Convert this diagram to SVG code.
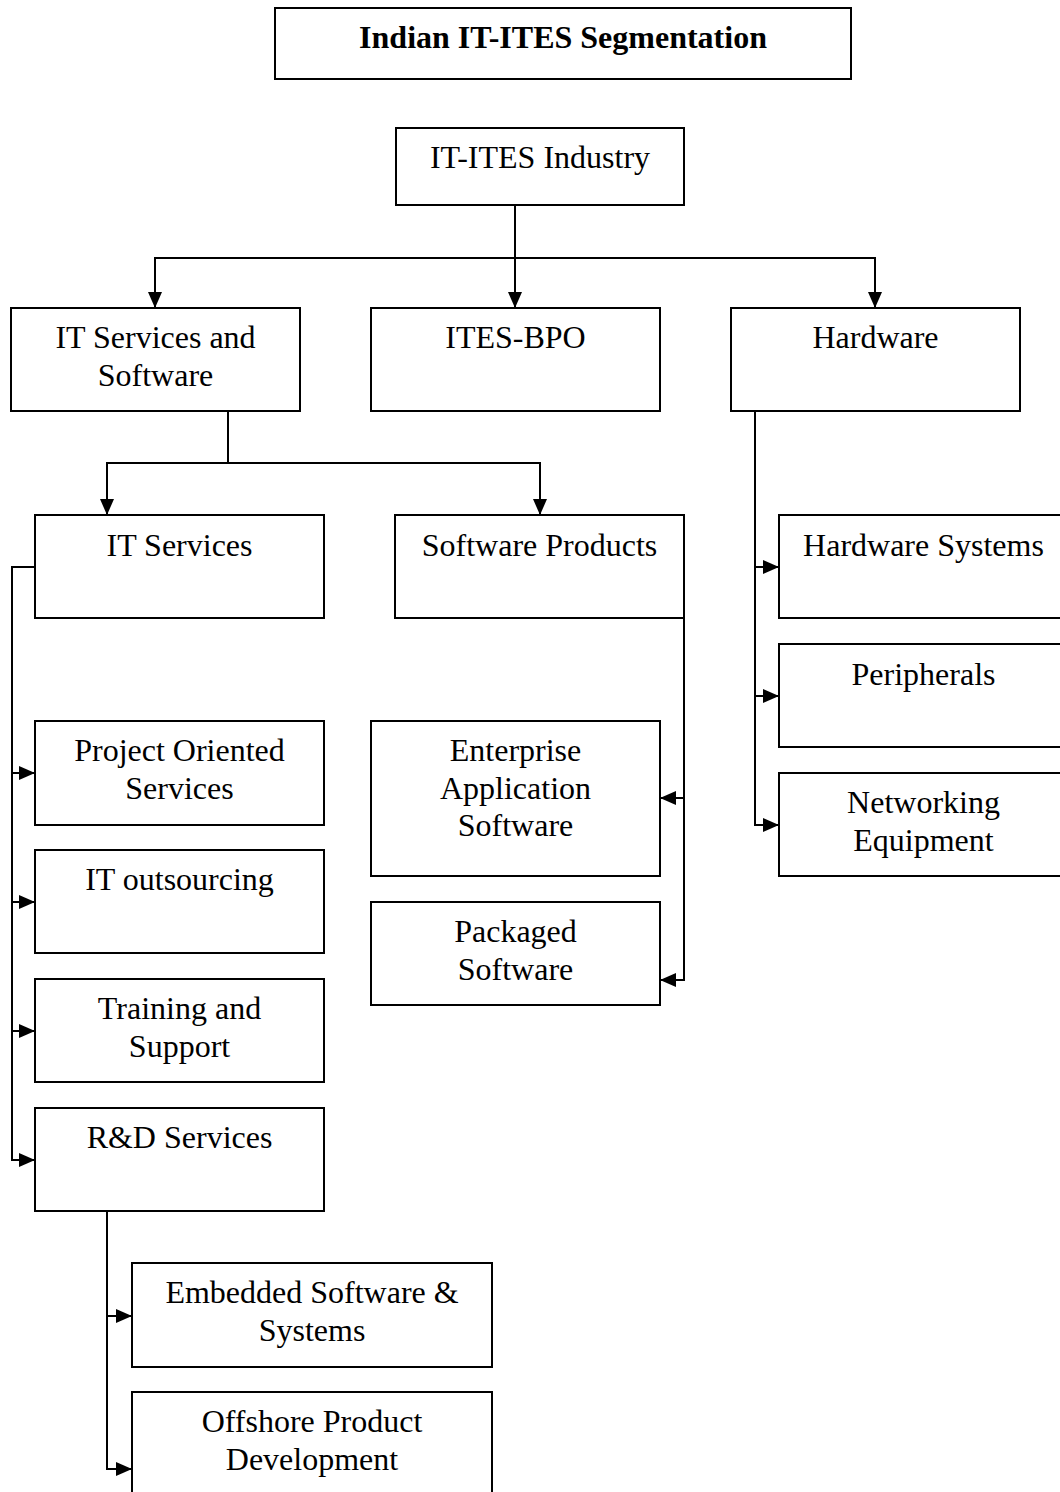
<svg xmlns="http://www.w3.org/2000/svg" width="1060" height="1492" viewBox="0 0 1060 1492">
<style>
.box{fill:#fff;stroke:#000;stroke-width:2}
.t{font-family:"Liberation Serif","Times New Roman",serif;font-size:32px;fill:#000;text-anchor:middle}
.tb{font-family:"Liberation Serif","Times New Roman",serif;font-size:32px;font-weight:bold;fill:#000;text-anchor:middle}
.c{fill:none;stroke:#000;stroke-width:2}
</style>
<defs>
<marker id="ah" markerUnits="userSpaceOnUse" markerWidth="16" markerHeight="14" refX="16" refY="7" orient="auto">
<path d="M0,0 L16,7 L0,14 z" fill="#000"/>
</marker>
</defs>
<rect width="1060" height="1492" fill="#fff"/>
<g id="connectors">
<path class="c" d="M515,205 V258 H155 V308" marker-end="url(#ah)"/>
<path class="c" d="M515,258 V308" marker-end="url(#ah)"/>
<path class="c" d="M515,258 H875 V308" marker-end="url(#ah)"/>
<path class="c" d="M228,411 V463 H107 V515" marker-end="url(#ah)"/>
<path class="c" d="M228,463 H540 V515" marker-end="url(#ah)"/>
<path class="c" d="M35,567 H12 V1160 H35" marker-end="url(#ah)"/>
<path class="c" d="M12,773 H35" marker-end="url(#ah)"/>
<path class="c" d="M12,902 H35" marker-end="url(#ah)"/>
<path class="c" d="M12,1031 H35" marker-end="url(#ah)"/>
<path class="c" d="M684,567 V980 H660" marker-end="url(#ah)"/>
<path class="c" d="M684,798 H660" marker-end="url(#ah)"/>
<path class="c" d="M755,411 V825 H779" marker-end="url(#ah)"/>
<path class="c" d="M755,567 H779" marker-end="url(#ah)"/>
<path class="c" d="M755,696 H779" marker-end="url(#ah)"/>
<path class="c" d="M107,1211 V1469 H132" marker-end="url(#ah)"/>
<path class="c" d="M107,1316 H132" marker-end="url(#ah)"/>
</g>
<g id="title"><rect class="box" x="275" y="8" width="576" height="71"/><text class="tb" x="563" y="48">Indian IT-ITES Segmentation</text></g>
<g id="industry"><rect class="box" x="396" y="128" width="288" height="77"/><text class="t" x="540" y="168">IT-ITES Industry</text></g>
<g id="itss"><rect class="box" x="11" y="308" width="289" height="103"/><text class="t" x="155.5" y="348">IT Services and</text><text class="t" x="155.5" y="386">Software</text></g>
<g id="itesbpo"><rect class="box" x="371" y="308" width="289" height="103"/><text class="t" x="515.5" y="348">ITES-BPO</text></g>
<g id="hardware"><rect class="box" x="731" y="308" width="289" height="103"/><text class="t" x="875.5" y="348">Hardware</text></g>
<g id="itservices"><rect class="box" x="35" y="515" width="289" height="103"/><text class="t" x="179.5" y="556">IT Services</text></g>
<g id="swproducts"><rect class="box" x="395" y="515" width="289" height="103"/><text class="t" x="539.5" y="556">Software Products</text></g>
<g id="hwsystems"><rect class="box" x="779" y="515" width="289" height="103"/><text class="t" x="923.5" y="556">Hardware Systems</text></g>
<g id="peripherals"><rect class="box" x="779" y="644" width="289" height="103"/><text class="t" x="923.5" y="685">Peripherals</text></g>
<g id="networking"><rect class="box" x="779" y="773" width="289" height="103"/><text class="t" x="923.5" y="813">Networking</text><text class="t" x="923.5" y="851">Equipment</text></g>
<g id="project"><rect class="box" x="35" y="721" width="289" height="104"/><text class="t" x="179.5" y="761">Project Oriented</text><text class="t" x="179.5" y="799">Services</text></g>
<g id="outsourcing"><rect class="box" x="35" y="850" width="289" height="103"/><text class="t" x="179.5" y="890">IT outsourcing</text></g>
<g id="training"><rect class="box" x="35" y="979" width="289" height="103"/><text class="t" x="179.5" y="1019">Training and</text><text class="t" x="179.5" y="1057">Support</text></g>
<g id="rnd"><rect class="box" x="35" y="1108" width="289" height="103"/><text class="t" x="179.5" y="1148">R&amp;D Services</text></g>
<g id="enterprise"><rect class="box" x="371" y="721" width="289" height="155"/><text class="t" x="515.5" y="761">Enterprise</text><text class="t" x="515.5" y="799">Application</text><text class="t" x="515.5" y="836">Software</text></g>
<g id="packaged"><rect class="box" x="371" y="902" width="289" height="103"/><text class="t" x="515.5" y="942">Packaged</text><text class="t" x="515.5" y="980">Software</text></g>
<g id="embedded"><rect class="box" x="132" y="1263" width="360" height="104"/><text class="t" x="312" y="1303">Embedded Software &amp;</text><text class="t" x="312" y="1341">Systems</text></g>
<g id="offshore"><rect class="box" x="132" y="1392" width="360" height="104"/><text class="t" x="312" y="1432">Offshore Product</text><text class="t" x="312" y="1470">Development</text></g>
</svg>
